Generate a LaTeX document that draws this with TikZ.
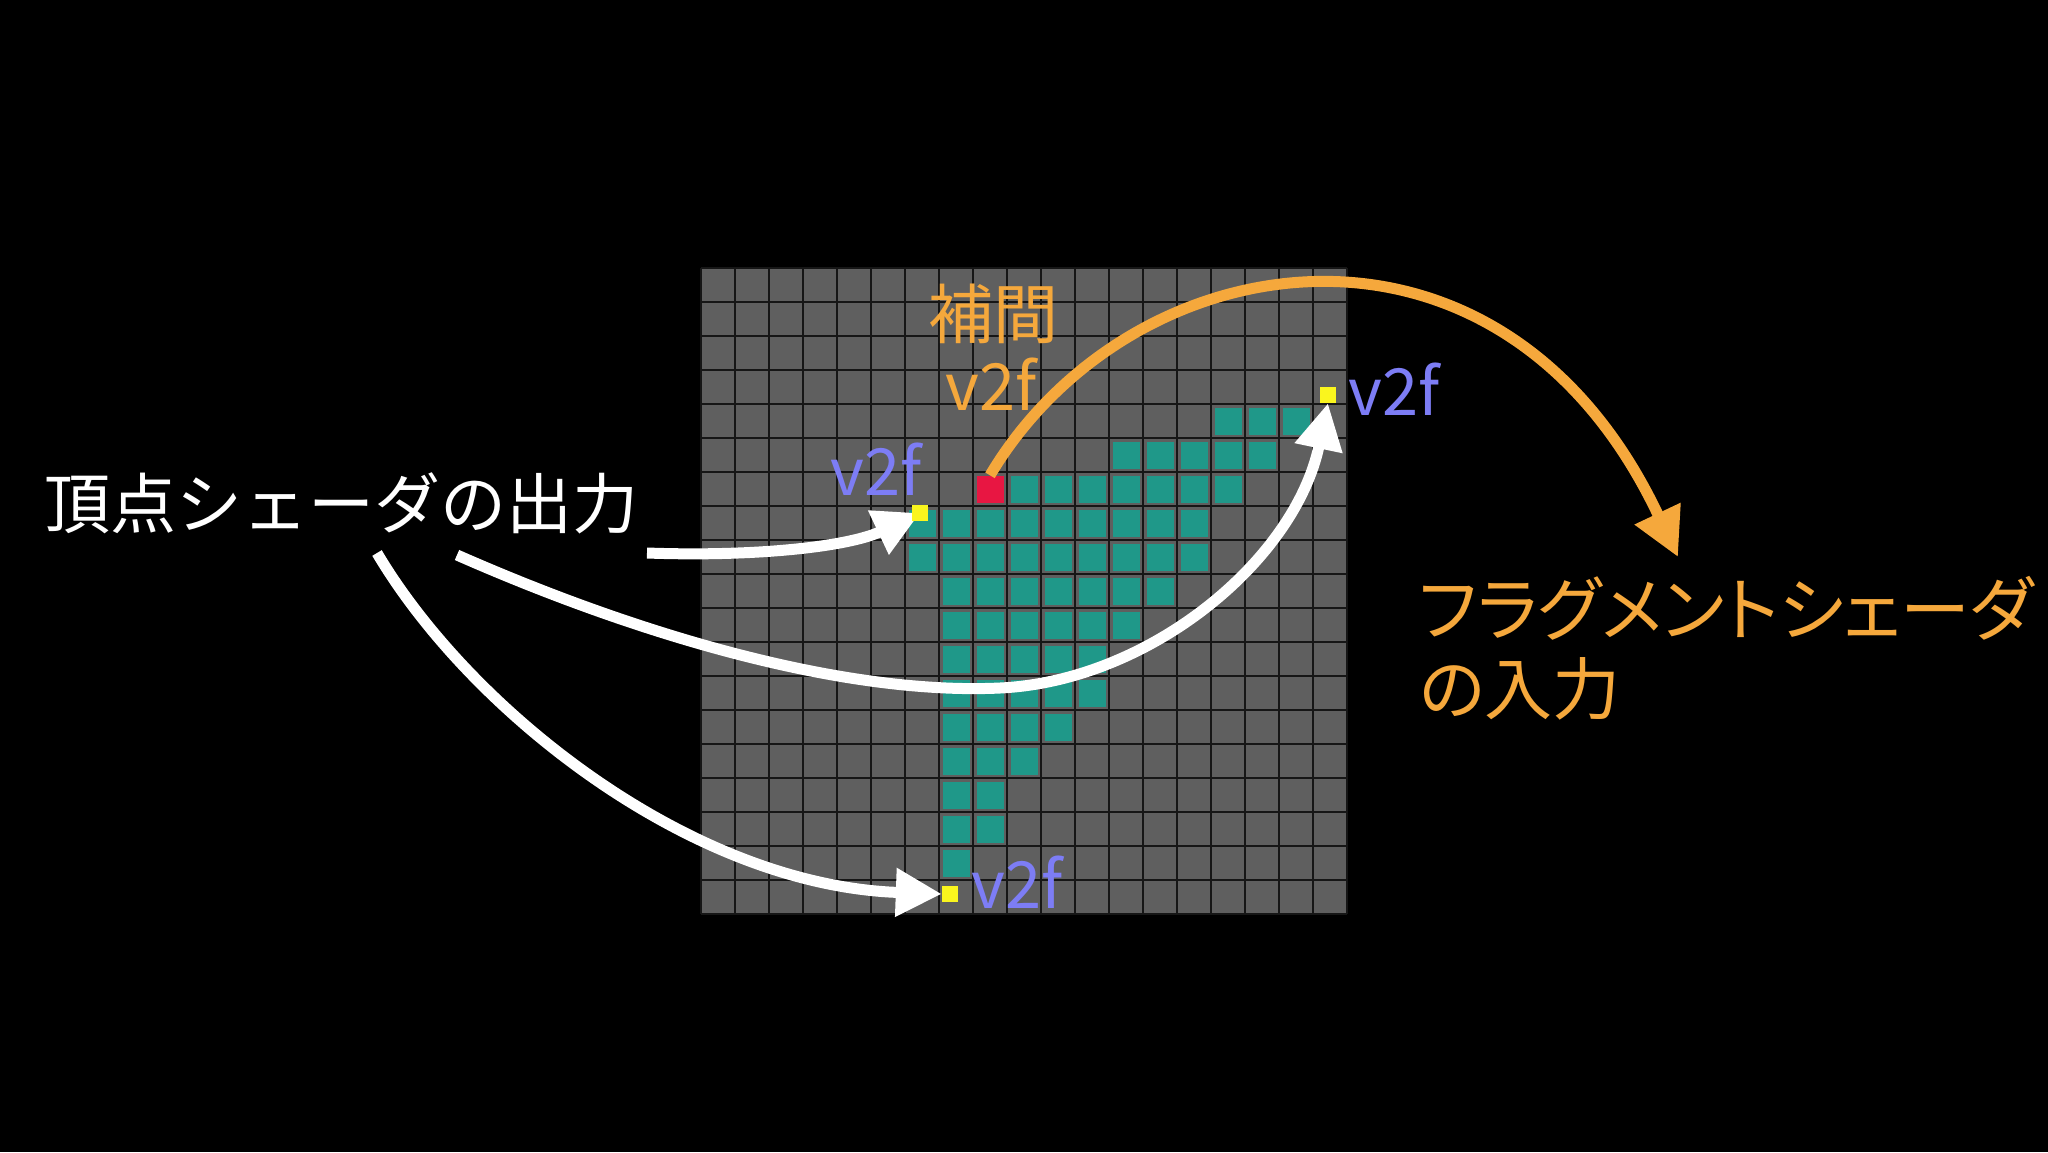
\documentclass[tikz,border=0pt]{standalone}
\usepackage{fontspec}
\newfontfamily\jp{Noto Sans CJK JP}
\newfontfamily\jpp[RawFeature=+palt]{Noto Sans CJK JP}
\usetikzlibrary{arrows.meta}
\definecolor{gridgray}{RGB}{95,95,95}
\definecolor{gridline}{RGB}{22,22,22}
\definecolor{cteal}{RGB}{31,152,137}
\definecolor{cred}{RGB}{232,22,66}
\definecolor{vyellow}{RGB}{250,245,30}
\definecolor{corange}{RGB}{245,168,60}
\definecolor{vblue}{RGB}{125,125,245}
\pgfdeclarelayer{front}
\pgfsetlayers{main,front}
\begin{document}
\begin{tikzpicture}[x=1pt,y=-1pt,
  lbl/.style={inner sep=0pt, font=\jp\fontsize{65}{78}\selectfont},
  plbl/.style={inner sep=0pt, font=\jpp\fontsize{68}{80}\selectfont},
  vtx/.style={lbl, text=vblue, anchor=base west},
  warrow/.style={draw=white, line width=11pt, -{Triangle[length=46pt,width=46pt]}},
  oarrow/.style={draw=corange, line width=11pt, -{Triangle[length=48pt,width=48pt]}},
  ysq/.style={fill=vyellow, minimum size=16pt, inner sep=0pt},
  cellbox/.style={fill=cteal}]
\useasboundingbox (0,0) rectangle (2048,1152);
\fill[black] (0,0) rectangle (2048,1152);
% grid
\fill[gridgray] (701,268) rectangle (1347,914);
\foreach \i in {0,...,19}{
  \draw[gridline, line width=1.6pt] ({701+34*\i},268) -- ({701+34*\i},914);
  \draw[gridline, line width=1.6pt] (701,{268+34*\i}) -- (1347,{268+34*\i});
}
% rasterized cells
\foreach \r/\a/\b in {4/15/17,5/12/16,6/9/15,7/6/14,8/6/14,9/7/13,10/7/12,11/7/11,12/7/11,13/7/10,14/7/9,15/7/8,16/7/8,17/7/7}{
  \foreach \c in {\a,...,\b}{
    \fill[cellbox] ({701+34*\c+3.5},{268+34*\r+3.5}) rectangle ++(27,27);
  }
}
\node[fill=cred, minimum size=27pt, inner sep=0pt] (red) at (990,489) {};
% vertex markers
\begin{pgfonlayer}{front}
\node[ysq] (ya) at (920,513) {};
\node[ysq] (yb) at (1328,395) {};
\node[ysq] (yc) at (950,894) {};
\end{pgfonlayer}
% labels
\node[lbl, font=\jp\fontsize{66}{79}\selectfont, text=white, anchor=west] (vsout) at (44,503) {頂点シェーダの出力};
\node[lbl, text=corange, anchor=west] (interp) at (928,314) {補間};
\node[vtx, text=corange] (v2fo) at (945,410) {v2f};
\node[vtx] (v2fa) at (830,495) {v2f};
\node[vtx] (v2fb) at (1348,415) {v2f};
\node[vtx] (v2fc) at (971,908) {v2f};
\node[plbl, font=\jpp\fontsize{70}{82}\selectfont, text=corange, anchor=west] (fs1) at (1419,608) {フラグメントシェーダ};
\node[plbl, text=corange, anchor=west] (fs2) at (1419,689) {の入力};
% arrows
\coordinate (s1) at (647,553);
\coordinate (s2) at (457,555);
\coordinate (s3) at (377,553);
\coordinate (otip) at (1678,557);
\draw[warrow] (s1) .. controls (760,557) and (850,546) .. (ya.center);
\draw[warrow] (s2) .. controls (650,640) and (850,695) .. (1000,688) .. controls (1150,681) and (1295,560) .. (yb.south);
\draw[warrow] (s3) .. controls (470,710) and (690,885) .. (yc.west);
\draw[oarrow] (red.north) .. controls (1130,240) and (1500,180) .. (otip);
\end{tikzpicture}
\end{document}
